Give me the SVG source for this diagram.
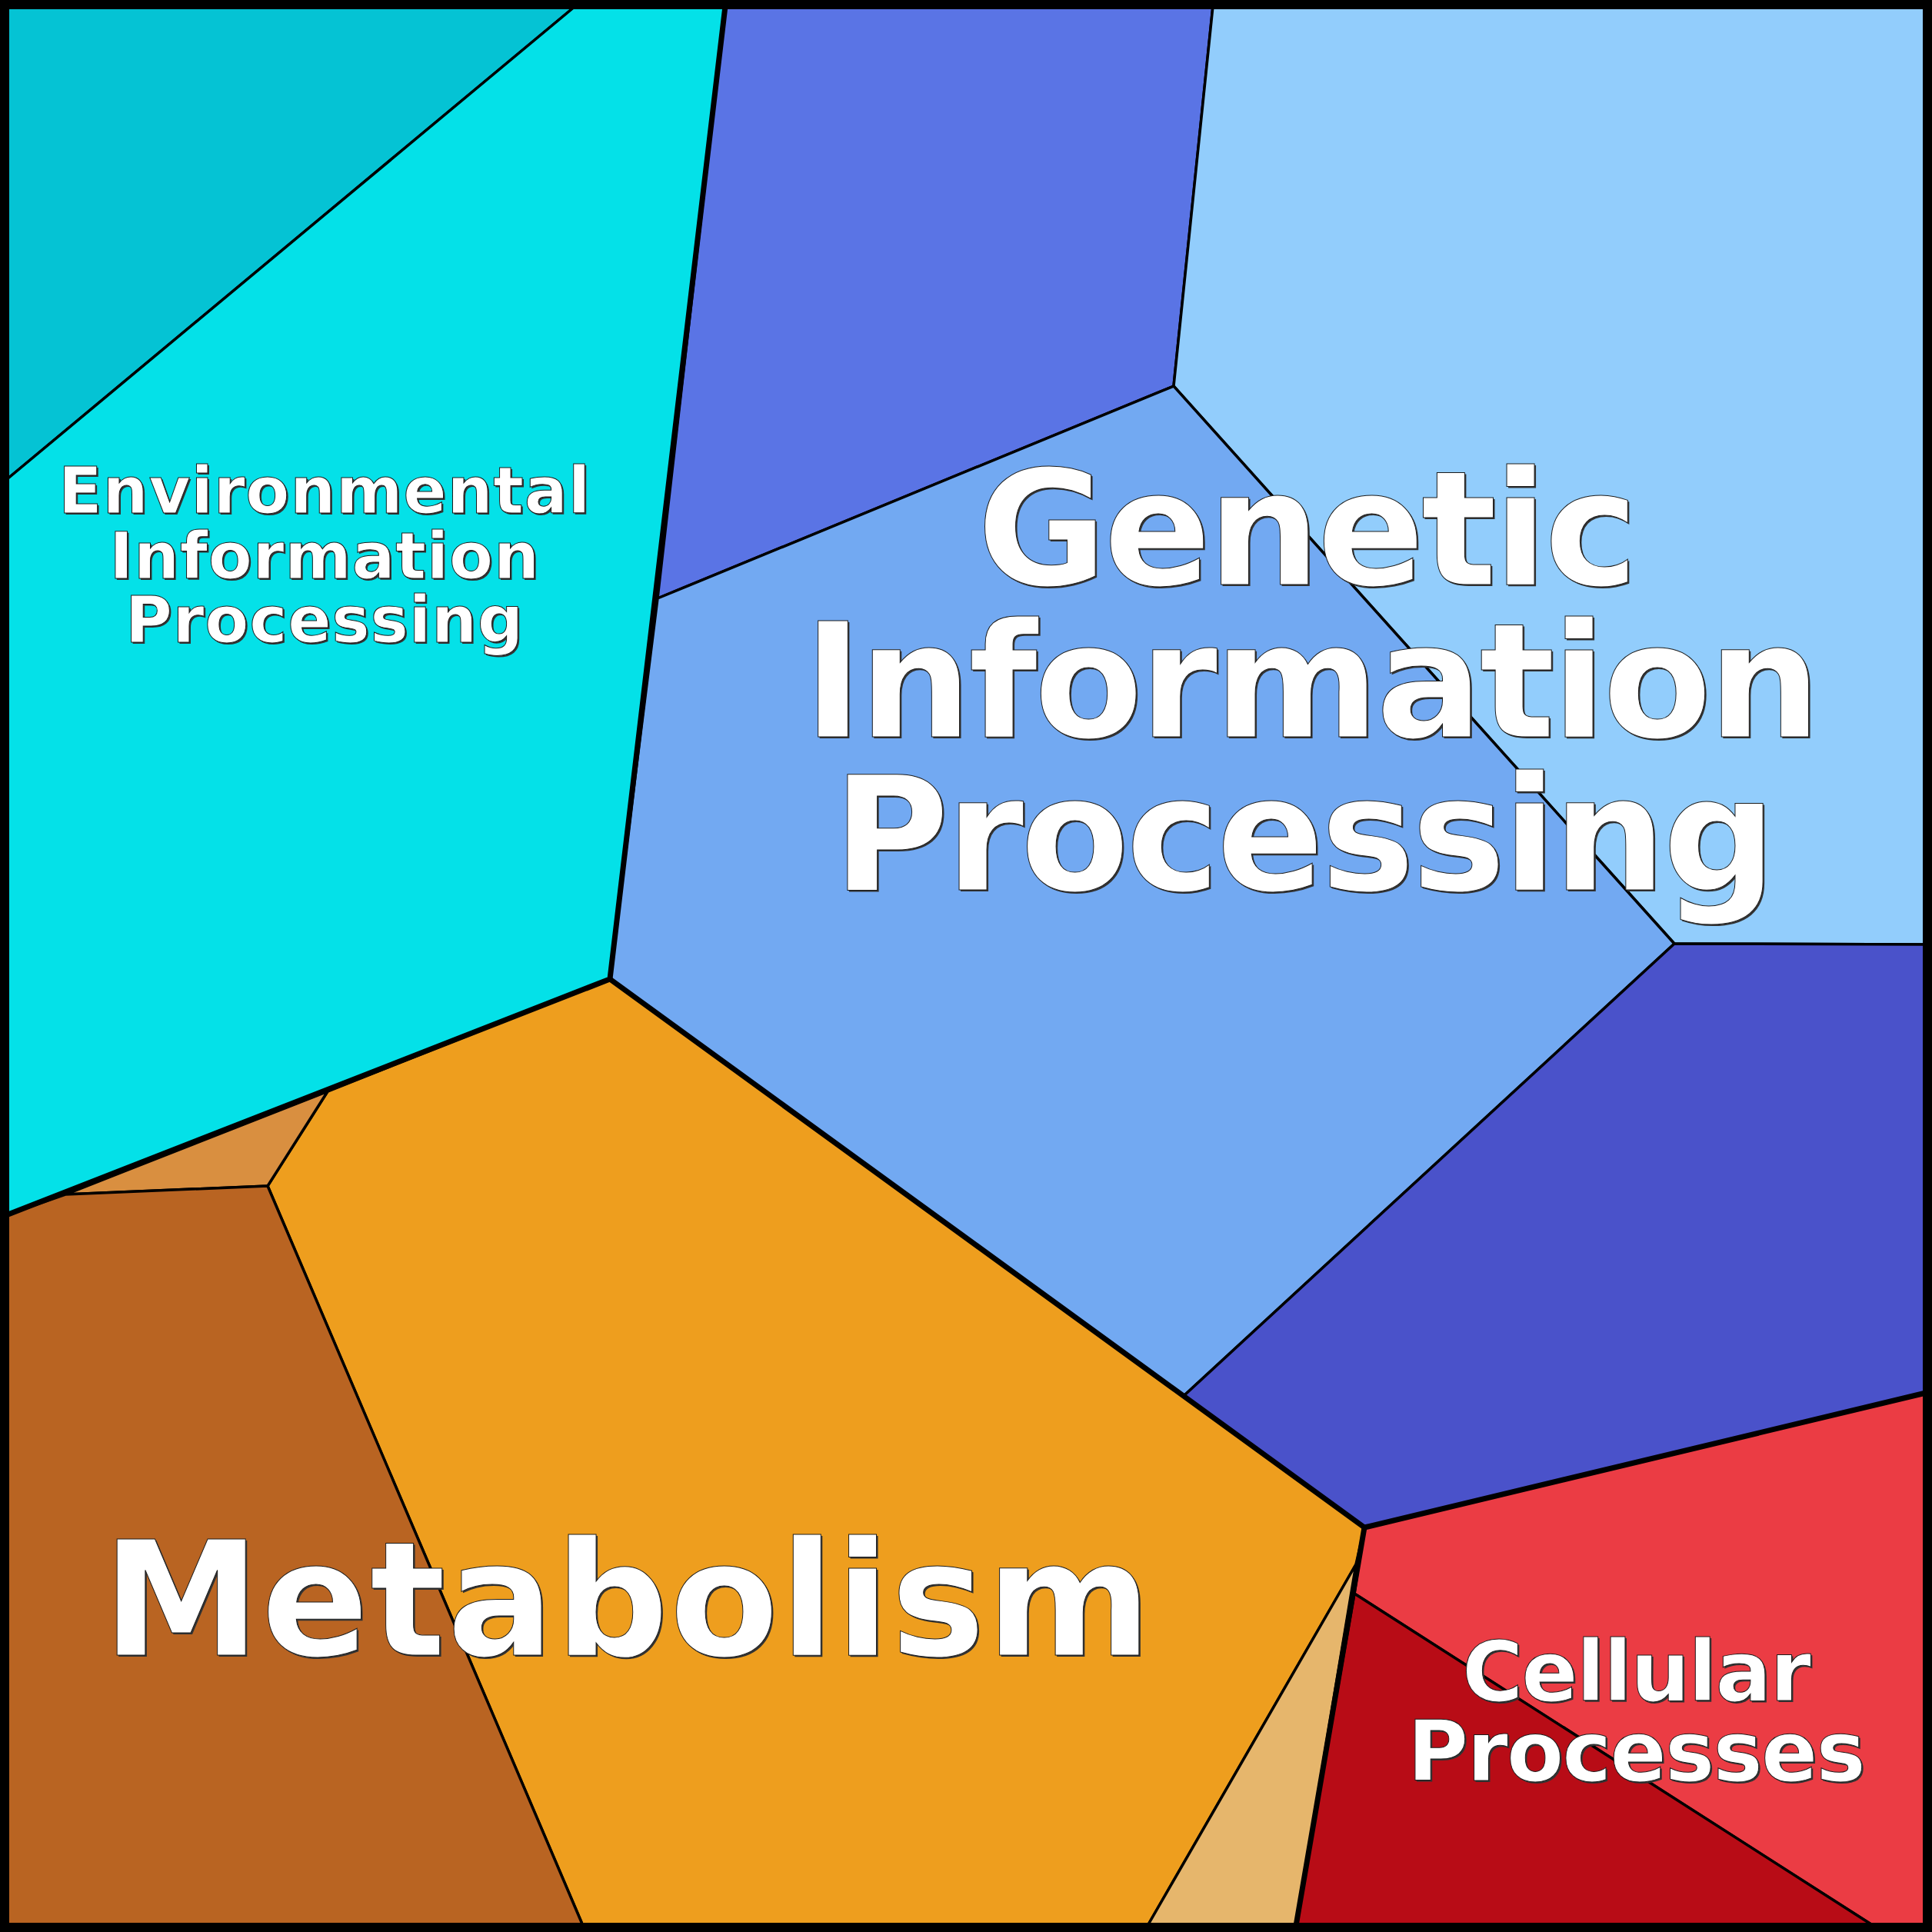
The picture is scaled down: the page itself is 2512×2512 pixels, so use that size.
<svg xmlns="http://www.w3.org/2000/svg" width="2512" height="2512" viewBox="0 0 2512 2512">
  <style>
    .cell { stroke: #000; stroke-width: 3.5; stroke-linejoin: round; }
    .thick { fill: none; stroke: #000; stroke-width: 7; stroke-linejoin: round; stroke-linecap: round; }
    .lbl { font-family: "DejaVu Sans", "Liberation Sans", sans-serif; font-weight: bold; fill: #fff; stroke: #1a1a1a; stroke-width: 1; text-anchor: middle; }
    .shadow { font-family: "DejaVu Sans", "Liberation Sans", sans-serif; font-weight: bold; fill: #333; text-anchor: middle; }
    .big { font-size: 206px; letter-spacing: -4.4px; }
    .met { font-size: 206px; letter-spacing: 1.6px; }
    .env { font-size: 83px; letter-spacing: 0.8px; }
    .cel { font-size: 108px; letter-spacing: -1.8px; }
  </style>
  <rect x="0" y="0" width="2512" height="2512" fill="#fff"/>

  <g id="env-info">
    <polygon id="env-a" class="cell" fill="#05C3D4" points="8,8 748,8 8,624"/>
    <polygon id="env-b" class="cell" fill="#04E1E8" points="8,624 748,8 943,8 793,1273 426,1419 8,1580"/>
  </g>

  <g id="genetic-info">
    <polygon id="gen-a" class="cell" fill="#5A74E5" points="943,8 1577,8 1526,502 855,778"/>
    <polygon id="gen-b" class="cell" fill="#92CDFC" points="1577,8 2504,8 2504,1228 2177,1227 1526,502"/>
    <polygon id="gen-c" class="cell" fill="#72A9F2" points="855,778 1526,502 2177,1227 1539,1815 793,1273"/>
    <polygon id="gen-d" class="cell" fill="#4A52CA" points="2177,1227 2504,1228 2504,1811 1774,1986 1539,1815"/>
  </g>

  <g id="metabolism">
    <polygon id="met-a" class="cell" fill="#EE9E1E" points="793,1273 1539,1815 1774,1986 1763,2034 1492,2504 758,2504 348,1542 426,1419"/>
    <polygon id="met-b" class="cell" fill="#D98F40" points="426,1419 348,1542 85,1553"/>
    <polygon id="met-c" class="cell" fill="#B96422" points="8,1580 85,1553 348,1542 758,2504 8,2504"/>
    <polygon id="met-d" class="cell" fill="#E6B66C" points="1763,2034 1685,2504 1492,2504"/>
  </g>

  <g id="cellular">
    <polygon id="cel-a" class="cell" fill="#EB3C44" points="1774,1986 2504,1811 2504,2504 2436,2504 1761,2072"/>
    <polygon id="cel-b" class="cell" fill="#B80C16" points="1761,2072 2436,2504 1685,2504"/>
  </g>

  <g id="connectors">
    <polyline class="thick" points="943,8 793,1273 8,1580"/>
    <polyline class="thick" points="793,1273 1774,1986 2504,1811"/>
    <polyline class="thick" points="1774,1986 1685,2504"/>
  </g>

  <rect id="frame" x="6" y="6" width="2500" height="2500" fill="none" stroke="#000" stroke-width="12"/>

  <g id="labels">
    <g id="label-env">
      <text class="shadow env" x="424" y="669">Environmental</text>
      <text class="shadow env" x="424" y="754">Information</text>
      <text class="shadow env" x="424" y="837">Processing</text>
      <text class="lbl env" x="422" y="667">Environmental</text>
      <text class="lbl env" x="422" y="752">Information</text>
      <text class="lbl env" x="422" y="835">Processing</text>
    </g>
    <g id="label-gen">
      <text class="shadow big" x="1700" y="762">Genetic</text>
      <text class="shadow big" x="1706" y="960">Information</text>
      <text class="shadow big" x="1696" y="1159">Processing</text>
      <text class="lbl big" x="1698" y="760">Genetic</text>
      <text class="lbl big" x="1704" y="958">Information</text>
      <text class="lbl big" x="1694" y="1157">Processing</text>
    </g>
    <g id="label-met">
      <text class="shadow met" x="818" y="2154">Metabolism</text>
      <text class="lbl met" x="816" y="2152">Metabolism</text>
    </g>
    <g id="label-cel">
      <text class="shadow cel" x="2129" y="2213">Cellular</text>
      <text class="shadow cel" x="2129" y="2317">Processes</text>
      <text class="lbl cel" x="2127" y="2211">Cellular</text>
      <text class="lbl cel" x="2127" y="2315">Processes</text>
    </g>
  </g>
</svg>
